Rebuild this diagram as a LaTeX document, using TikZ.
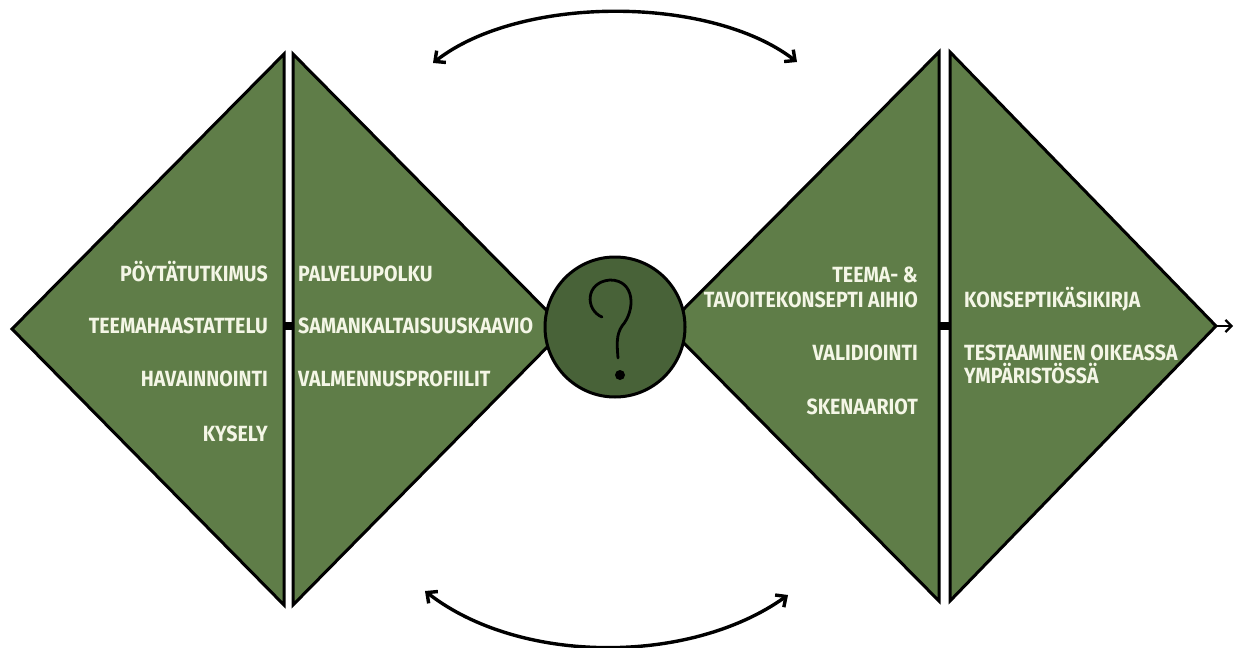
\documentclass[tikz,border=0pt]{standalone}
\usepackage{fontspec}
\usetikzlibrary{arrows.meta}
\newfontfamily\lbfont[FakeStretch=0.89]{Fira Sans}
\definecolor{dgreen}{RGB}{95,125,72}
\definecolor{cgreen}{RGB}{72,98,56}
\definecolor{cream}{RGB}{244,246,230}
\begin{document}
\begin{tikzpicture}[x=1pt,y=-1pt,
  tri/.style={fill=dgreen,draw=black,line width=3pt,line join=miter},
  lbl/.style={text=cream,font=\lbfont\bfseries\fontsize{22}{26}\selectfont,inner sep=0pt},
  lbll/.style={lbl,anchor=base west},
  lblr/.style={lbl,anchor=base east},
  arr/.style={line width=3.4pt,{Straight Barb[length=8pt,width=15pt]}-{Straight Barb[length=8pt,width=15pt]}},
  bar/.style={fill=black,draw=none}]
\useasboundingbox (0,0) rectangle (1235,648);
% left diamond
\draw[tri] (12,329) -- (284,54) -- (284,605) -- cycle;
\draw[tri] (293,54) -- (293,605) -- (565,329) -- cycle;
\fill[bar] (283,322) rectangle (294,330);
% right diamond
\draw[tri] (939,52) -- (939,601) -- (667,326) -- cycle;
\draw[tri] (950,52) -- (950,601) -- (1216,326) -- cycle;
\fill[bar] (938,322) rectangle (951,330);
% circle
\node[circle,draw=black,line width=3pt,fill=cgreen,minimum size=140pt,inner sep=0pt] (q) at (615,327) {};
\draw[line width=2.8pt,line cap=round] (602,317) .. controls (585,310) and (585,282) .. (610,280)
  .. controls (635,280) and (636,310) .. (622,326) .. controls (616,335) and (617,345) .. (618,358);
\fill (620,375) circle (5);
% texts left diamond
\node[lblr] (a1) at (268,281) {PÖYTÄTUTKIMUS};
\node[lblr] (a2) at (268,333) {TEEMAHAASTATTELU};
\node[lblr] (a3) at (268,386) {HAVAINNOINTI};
\node[lblr] (a4) at (268,441) {KYSELY};
\node[lbll] (b1) at (298,281) {PALVELUPOLKU};
\node[lbll] (b2) at (298,333) {SAMANKALTAISUUSKAAVIO};
\node[lbll] (b3) at (298,386) {VALMENNUSPROFIILIT};
% texts right diamond
\node[lblr] (c1) at (918,282) {TEEMA- \&};
\node[lblr] (c2) at (918,307) {TAVOITEKONSEPTI AIHIO};
\node[lblr] (c3) at (918,360) {VALIDIOINTI};
\node[lblr] (c4) at (918,414) {SKENAARIOT};
\node[lbll] (d1) at (964,307) {KONSEPTIKÄSIKIRJA};
\node[lbll] (d2) at (964,360) {TESTAAMINEN OIKEASSA};
\node[lbll] (d3) at (964,383) {YMPÄRISTÖSSÄ};
% arrows
\coordinate (ta) at (433,63);
\coordinate (tb) at (797,62);
\coordinate (ba) at (425,591);
\coordinate (bb) at (788,595);
\draw[arr] (ta) .. controls (520,-5) and (710,-5) .. (tb);
\draw[arr] (ba) .. controls (520,665) and (690,665) .. (bb);
\coordinate (tip) at (1216,326);
\coordinate (out) at (1233,326);
\draw[line width=2.2pt,-{Straight Barb[length=6pt,width=12pt]}] (tip) -- (out);
\end{tikzpicture}
\end{document}
